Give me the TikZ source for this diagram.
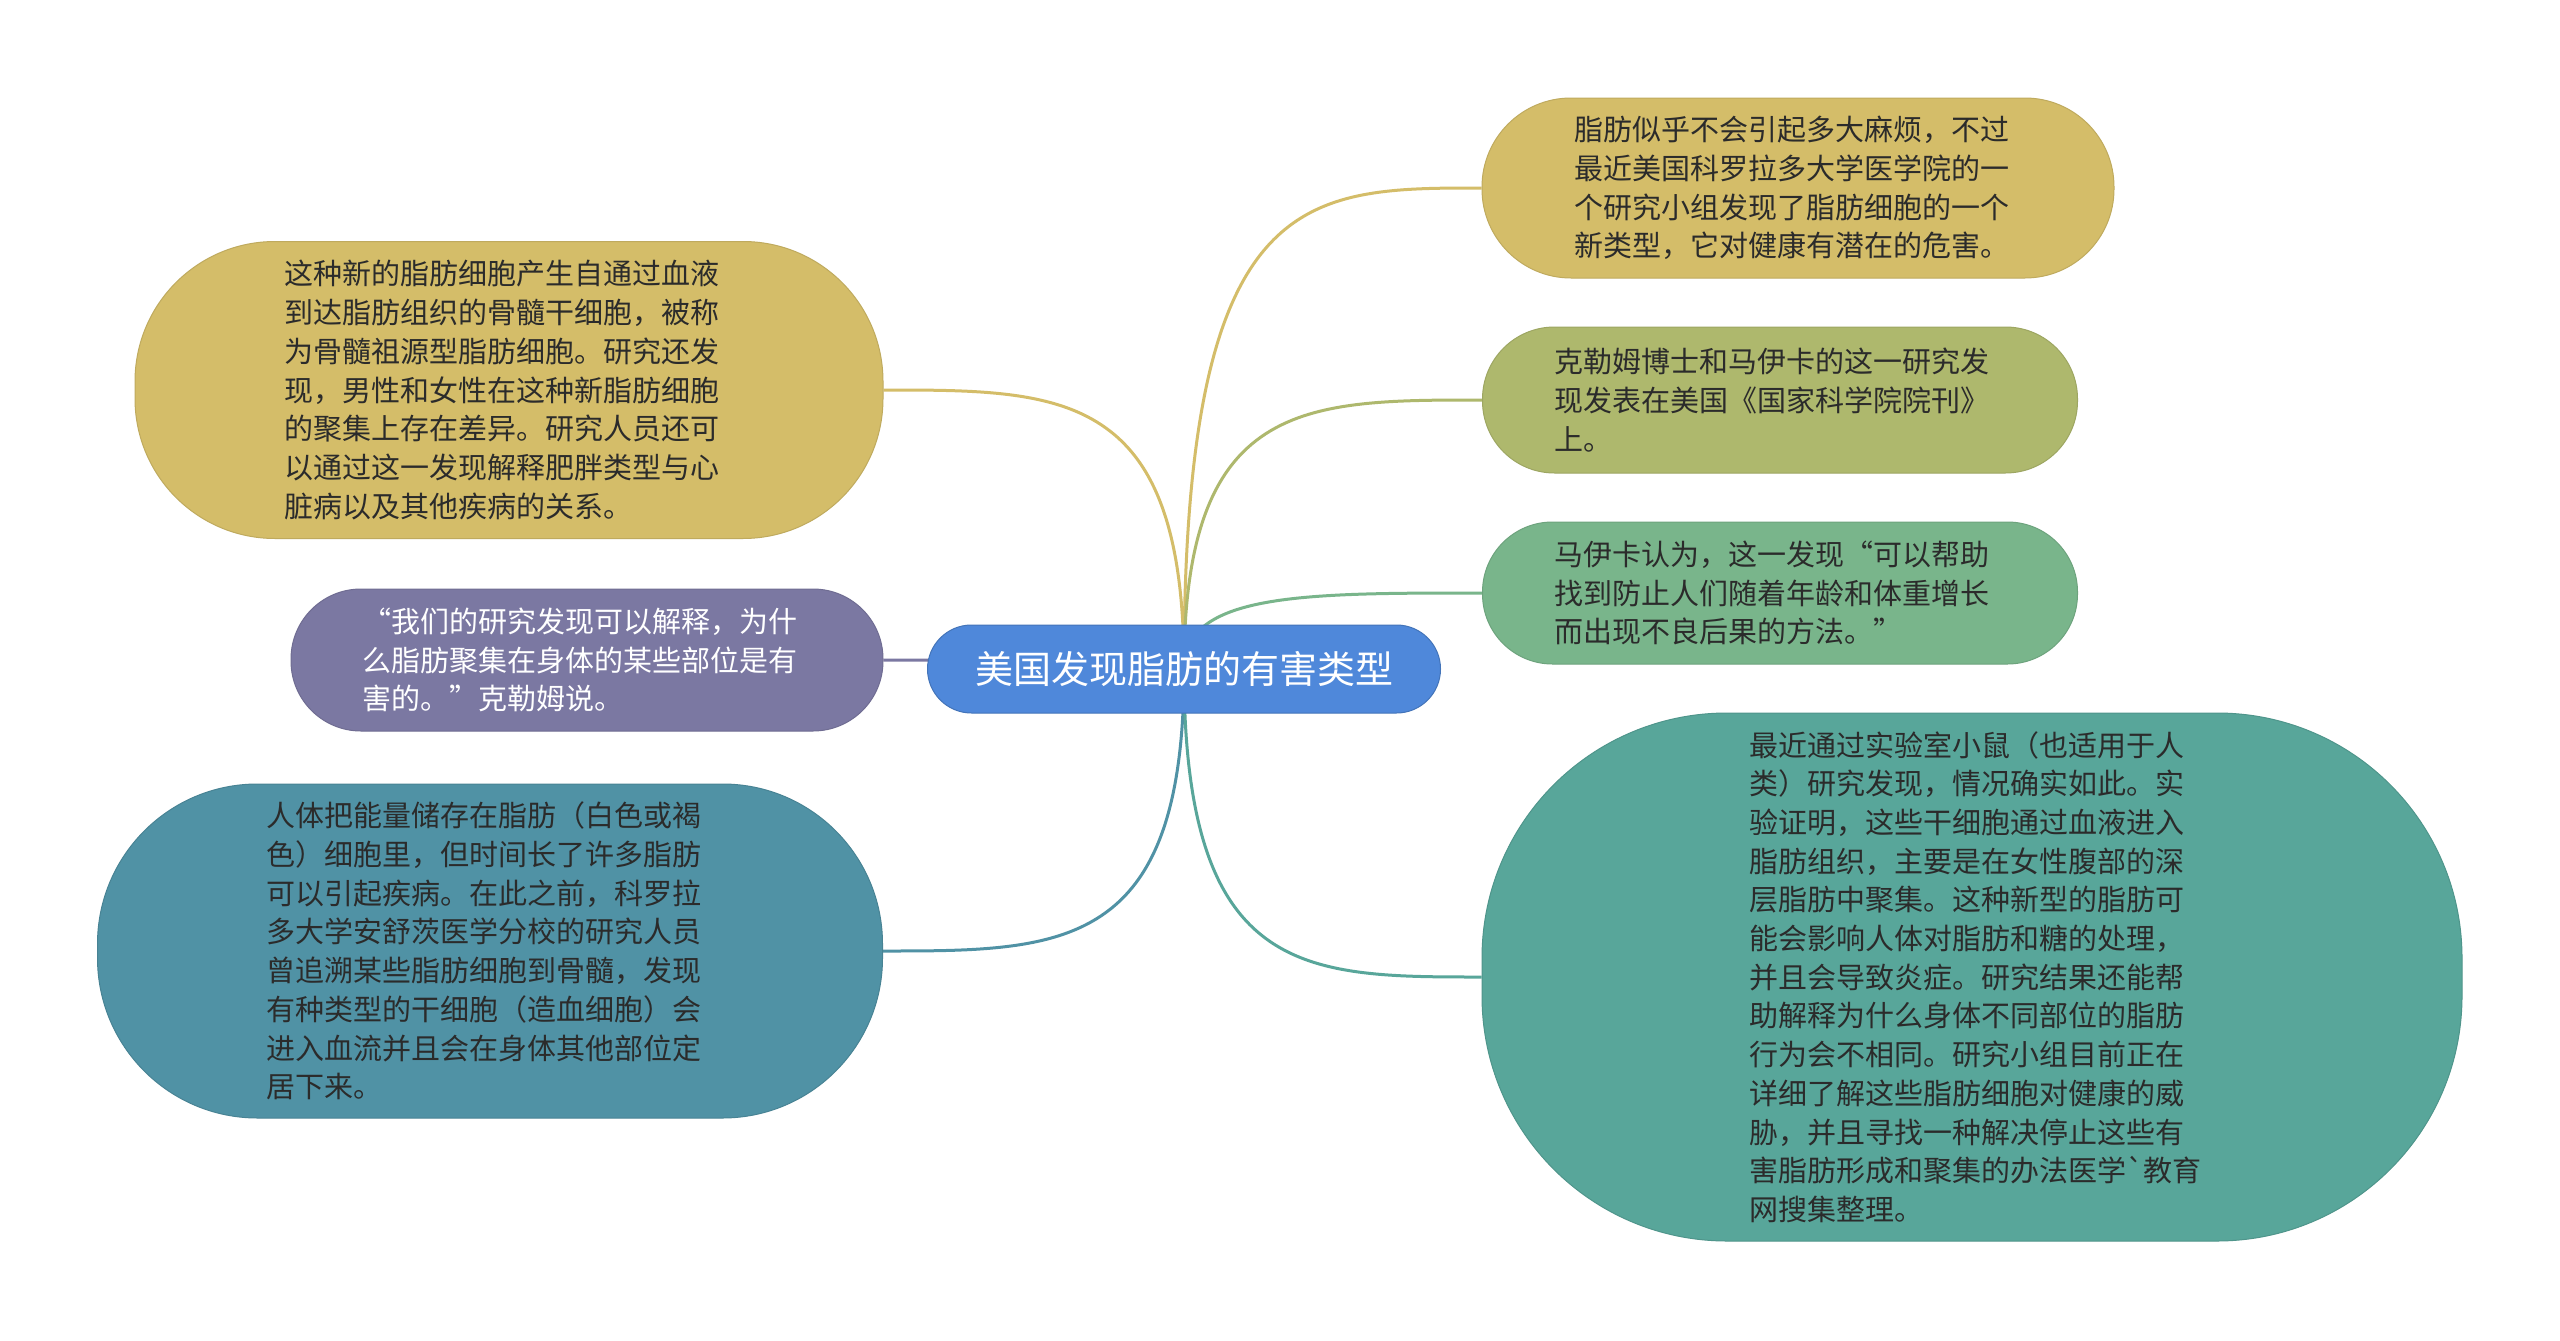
\documentclass[tikz,border=0pt]{standalone}
\usepackage{fontspec}
\newfontfamily\cjk{Noto Sans CJK SC}
\usetikzlibrary{calc}
\definecolor{hubc}{HTML}{4F88DA}
\definecolor{yelc}{HTML}{D4BD69}
\definecolor{purc}{HTML}{7B78A2}
\definecolor{blc}{HTML}{5092A5}
\definecolor{olc}{HTML}{AEB86D}
\definecolor{grc}{HTML}{79B58B}
\definecolor{btc}{HTML}{58A69A}
\definecolor{darktext}{HTML}{2B2B2B}
\pgfdeclarelayer{back}
\pgfdeclarelayer{bg}
\pgfsetlayers{back,bg,main}
\begin{document}
\begin{tikzpicture}[x=1pt,y=-1pt,
  boxnode/.style={line width=1pt, inner sep=0pt},
  txt/.style={align=left, inner sep=0pt, anchor=west, text=darktext,
    font=\cjk\fontsize{29pt}{38.7pt}\selectfont},
  conn/.style={line width=3pt}]
\begin{pgfonlayer}{back}
\fill[white] (0,0) rectangle (2560,1341);
\end{pgfonlayer}
\useasboundingbox (0,0) rectangle (2560,1341);

% hub
\node[boxnode, fill=hubc, draw=hubc!85!black, rounded corners=44pt,
  minimum width=513pt, minimum height=88pt, text=white,
  font=\cjk\fontsize{38pt}{46pt}\selectfont] (hub) at (1184,669) {美国发现脂肪的有害类型};

% left nodes
\node[boxnode, fill=yelc, draw=yelc!90!black, rounded corners=140pt,
  minimum width=748pt, minimum height=297pt] (tly) at (509,390) {};
\node[txt] (tlyt) at (284,390) {这种新的脂肪细胞产生自通过血液\\到达脂肪组织的骨髓干细胞，被称\\为骨髓祖源型脂肪细胞。研究还发\\现，男性和女性在这种新脂肪细胞\\的聚集上存在差异。研究人员还可\\以通过这一发现解释肥胖类型与心\\脏病以及其他疾病的关系。};

\node[boxnode, fill=purc, draw=purc!90!black, rounded corners=70pt,
  minimum width=592pt, minimum height=142pt] (pu) at (587,660) {};
\node[txt, text=white] (put) at (362,660) {“我们的研究发现可以解释，为什\\么脂肪聚集在身体的某些部位是有\\害的。”克勒姆说。};

\node[boxnode, fill=blc, draw=blc!90!black, rounded corners=160pt,
  minimum width=785pt, minimum height=334pt] (bl) at (490,951) {};
\node[txt] (blt) at (266,951) {人体把能量储存在脂肪（白色或褐\\色）细胞里，但时间长了许多脂肪\\可以引起疾病。在此之前，科罗拉\\多大学安舒茨医学分校的研究人员\\曾追溯某些脂肪细胞到骨髓，发现\\有种类型的干细胞（造血细胞）会\\进入血流并且会在身体其他部位定\\居下来。};

% right nodes
\node[boxnode, fill=yelc, draw=yelc!90!black, rounded corners=89pt,
  minimum width=632pt, minimum height=180pt] (rty) at (1798,188) {};
\node[txt] (rtyt) at (1574,188) {脂肪似乎不会引起多大麻烦，不过\\最近美国科罗拉多大学医学院的一\\个研究小组发现了脂肪细胞的一个\\新类型，它对健康有潜在的危害。};

\node[boxnode, fill=olc, draw=olc!90!black, rounded corners=72pt,
  minimum width=595pt, minimum height=146pt] (ol) at (1780,400) {};
\node[txt] (olt) at (1554,400) {克勒姆博士和马伊卡的这一研究发\\现发表在美国《国家科学院院刊》\\上。};

\node[boxnode, fill=grc, draw=grc!90!black, rounded corners=70pt,
  minimum width=595pt, minimum height=142pt] (gr) at (1780,593) {};
\node[txt] (grt) at (1554,593) {马伊卡认为，这一发现“可以帮助\\找到防止人们随着年龄和体重增长\\而出现不良后果的方法。”};

\node[boxnode, fill=btc, draw=btc!90!black, rounded corners=245pt,
  minimum width=980pt, minimum height=528pt] (bt) at (1972,977) {};
\node[txt] (btt) at (1749,977) {最近通过实验室小鼠（也适用于人\\类）研究发现，情况确实如此。实\\验证明，这些干细胞通过血液进入\\脂肪组织，主要是在女性腹部的深\\层脂肪中聚集。这种新型的脂肪可\\能会影响人体对脂肪和糖的处理，\\并且会导致炎症。研究结果还能帮\\助解释为什么身体不同部位的脂肪\\行为会不相同。研究小组目前正在\\详细了解这些脂肪细胞对健康的威\\胁，并且寻找一种解决停止这些有\\害脂肪形成和聚集的办法医学`教育\\网搜集整理。};

% connectors
\begin{pgfonlayer}{bg}
\draw[conn, draw=yelc] (hub.center) .. controls (hub.center |- tly.east) and ($(hub.center |- tly.east)!0.4!(tly.east)$) .. (tly.east);
\draw[conn, draw=purc] (hub.center) .. controls (hub.center |- pu.east) and ($(hub.center |- pu.east)!0.4!(pu.east)$) .. (pu.east);
\draw[conn, draw=blc] (hub.center) .. controls (hub.center |- bl.east) and ($(hub.center |- bl.east)!0.4!(bl.east)$) .. (bl.east);
\draw[conn, draw=yelc] (hub.center) .. controls (hub.center |- rty.west) and ($(hub.center |- rty.west)!0.4!(rty.west)$) .. (rty.west);
\draw[conn, draw=olc] (hub.center) .. controls (hub.center |- ol.west) and ($(hub.center |- ol.west)!0.4!(ol.west)$) .. (ol.west);
\draw[conn, draw=grc] (hub.center) .. controls (hub.center |- gr.west) and ($(hub.center |- gr.west)!0.4!(gr.west)$) .. (gr.west);
\draw[conn, draw=btc] (hub.center) .. controls (hub.center |- bt.west) and ($(hub.center |- bt.west)!0.4!(bt.west)$) .. (bt.west);
\end{pgfonlayer}
\end{tikzpicture}
\end{document}
